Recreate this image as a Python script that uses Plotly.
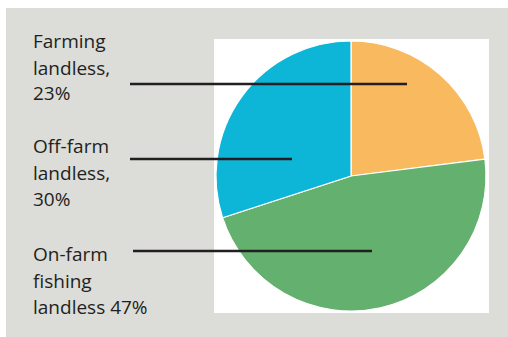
import plotly.graph_objects as go

# slices, clockwise from 12 o'clock
labels = ['Farming landless', 'On-farm fishing landless', 'Off-farm landless']
values = [23, 47, 30]
colors = ['#F9B95E', '#64B06F', '#0DB6D7']

# text blocks shown on the left (one entry per line)
label_farming = ['Farming', 'landless,', '23%']
label_offfarm = ['Off-farm', 'landless,', '30%']
label_onfarm = ['On-farm', 'fishing', 'landless 47%']

W, H = 508, 337


def px(x):
    return x / W


def py(y):
    return 1 - y / H


fig = go.Figure()
fig.add_trace(go.Pie(
    labels=labels, values=values, sort=False, direction='clockwise', rotation=0,
    marker=dict(colors=colors, line=dict(color='white', width=1.2)),
    textinfo='none', showlegend=False,
    domain=dict(x=[px(216), px(486)], y=[py(311), py(41)]),
))

shapes = [
    dict(type='rect', xref='paper', yref='paper', x0=px(6), x1=px(508), y0=py(337), y1=py(8),
         fillcolor='#DCDCD8', line=dict(width=0), layer='below'),
    dict(type='rect', xref='paper', yref='paper', x0=px(214), x1=px(489), y0=py(313), y1=py(39),
         fillcolor='white', line=dict(width=0), layer='below'),
]
# leader lines from text to slices
for x0, x1, y in [(130, 407, 84), (130, 292, 159), (133, 372, 251)]:
    shapes.append(dict(type='line', xref='paper', yref='paper', x0=px(x0), x1=px(x1),
                       y0=py(y), y1=py(y), line=dict(color='#231F20', width=2.4)))

annotations = []
blocks = [(label_farming, [48, 75, 100]), (label_offfarm, [153, 180, 206]), (label_onfarm, [261, 288, 314])]
for lines, baselines in blocks:
    for txt, b in zip(lines, baselines):
        annotations.append(dict(text=txt, xref='paper', yref='paper', x=px(31), y=py(b - 7),
                                xanchor='left', yanchor='middle', showarrow=False,
                                font=dict(family='Open Sans', size=19, color='#231F20')))

fig.update_layout(width=W, height=H, margin=dict(l=0, r=0, t=0, b=0),
                  paper_bgcolor='white', plot_bgcolor='white',
                  shapes=shapes, annotations=annotations)
fig.write_html('out.html', config={'displayModeBar': False},
               post_script="document.body.style.margin='0';")
